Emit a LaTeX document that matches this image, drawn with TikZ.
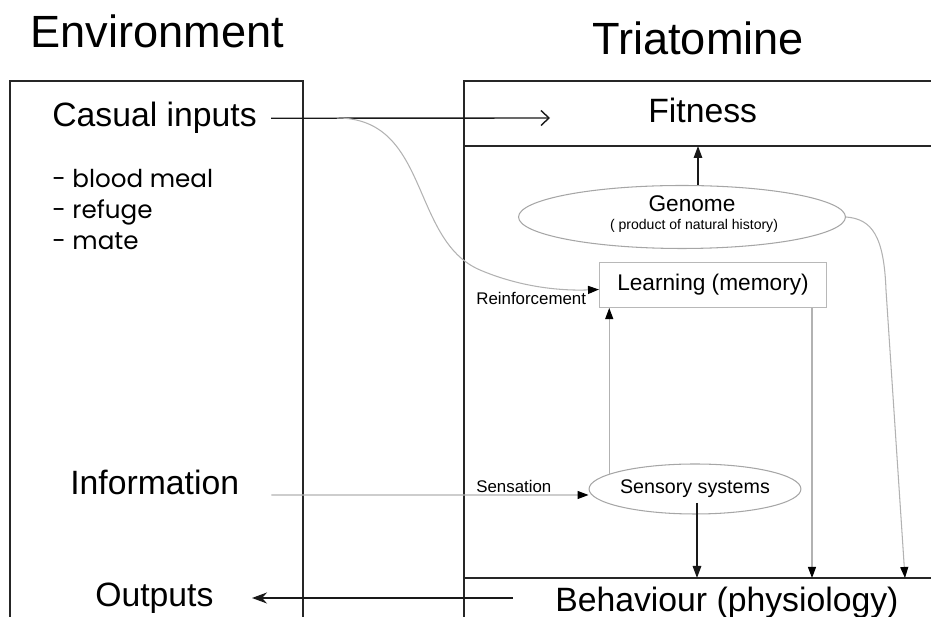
\documentclass[tikz,border=0pt]{standalone}
\usepackage{fontspec}
\setmainfont{Liberation Sans}
\newfontfamily\listfont{Poppins}
\usetikzlibrary{arrows.meta,shapes.geometric}

\tikzset{
  headtxt/.style={font=\fontsize{25.7}{30}\selectfont, inner sep=0pt, anchor=base west},
  maintxt/.style={font=\fontsize{19.2}{23}\selectfont, inner sep=0pt, anchor=base west},
  listtxt/.style={font=\listfont\fontsize{14}{17}\selectfont, inner sep=0pt, anchor=base west},
  boxtxt/.style={font=\fontsize{12.9}{15}\selectfont},
  sidetxt/.style={font=\fontsize{9.6}{11}\selectfont, inner sep=0pt, anchor=base west},
  boxline/.style={line width=0.9pt, black!85},
  shapeline/.style={draw=black!35, line width=0.6pt},
  grayline/.style={line width=0.6pt, black!30, -{Triangle[length=0.22cm,width=0.16cm,color=black]}},
  blackline/.style={line width=0.8pt, black!90, -{Triangle[length=0.24cm,width=0.17cm]}},
}

\begin{document}
\begin{tikzpicture}[x=0.02cm, y=-0.02cm]
    \useasboundingbox (0,0) rectangle (931,617);

    % Drawing box Environment
    \draw [boxline] (10,617) -- (10,81) -- (303,81) -- (303,617);
    % Drawing box Triatomine
    \draw [boxline] (931,81) -- (464,81) -- (464,617);
    \draw [boxline] (464,146) -- (931,146);
    \draw [boxline] (464,578) -- (931,578);

    % Marking titles
    \node (env) [headtxt] at (30,48) {Environment};
    \node (tria) [headtxt] at (592,55) {Triatomine};

    % Marking environment texts
    \node (casual) [maintxt] at (52,127) {Casual inputs};
    \node (meal) [listtxt] at (52,188) {- blood meal};
    \node (refuge) [listtxt] at (52,219) {- refuge};
    \node (mate) [listtxt] at (52,250) {- mate};
    \node (info) [maintxt] at (70,495) {Information};
    \node (outputs) [maintxt] at (95,607) {Outputs};

    % Marking triatomine texts
    \node (fitness) [maintxt] at (648,123) {Fitness};
    \node (behav) [maintxt] at (555,612) {Behaviour (physiology)};
    \node (reinf) [sidetxt] at (476,305) {Reinforcement};
    \node (sensation) [sidetxt] at (476,493) {Sensation};

    % Drawing ellipse Genome
    \node (genome) [ellipse, shapeline, minimum width=6.54cm, minimum height=1.26cm, inner sep=0pt] at (682,217) {};
    \node (genomename) [boxtxt, inner sep=0pt, anchor=base] at (692,212) {Genome};
    \node (genomenote) [font=\fontsize{8}{10}\selectfont, inner sep=0pt, anchor=base] at (694,230) {( product of natural history)};

    % Drawing box Learning
    \node (learn) [shapeline, draw=black!28, minimum width=4.54cm, minimum height=0.9cm, boxtxt] at (713,285) {Learning (memory)};

    % Drawing ellipse Sensory systems
    \node (sens) [ellipse, shapeline, minimum width=3.92cm, minimum height=1.0cm, inner sep=0pt, font=\fontsize{11.2}{13}\selectfont] at (695,489) {Sensory systems};

    % Free ends
    \coordinate (castip) at (550,118);
    \coordinate (reinfstart) at (337,118);
    \coordinate (outtip) at (252,598);
    \coordinate (outstart) at (513,598);
    \coordinate (fitarrow) at (698,146);
    \coordinate (bl) at (464,578);
    \coordinate (genin) at (905,578);
    \coordinate (memout) at ([xshift=-0.3cm]learn.south east);
    \coordinate (sensout) at ([xshift=0.04cm,yshift=-0.28cm]sens.center);

    % Drawing arrows
    \draw [line width=0.8pt, black!90, -{Straight Barb[length=0.16cm,width=0.3cm]}] (casual.east) ++(14,0) -- (castip);
    \draw [line width=0.8pt, black!90, {Stealth[length=0.3cm,width=0.22cm]}-] (outtip) -- (outstart);
    \draw [grayline] (reinfstart) .. controls (430,118) and (410,240) .. (480,270) .. controls (520,287) and (560,291) .. ([yshift=-0.09cm]learn.west);
    \draw [blackline] (genome.north -| fitarrow) -- (fitarrow);
    \draw [grayline] (sens.170) -- (sens.170 |- learn.south);
    \draw [grayline] (memout) -- (memout |- bl);
    \draw [blackline] (sensout) -- (sensout |- bl);
    \draw [grayline] (genome.east) .. controls (872,219) and (884,236) .. (886,290) -- (genin);
    \draw [grayline] (info.base east) ++(32,0) -- ([yshift=-0.12cm]sens.west);
\end{tikzpicture}
\end{document}
